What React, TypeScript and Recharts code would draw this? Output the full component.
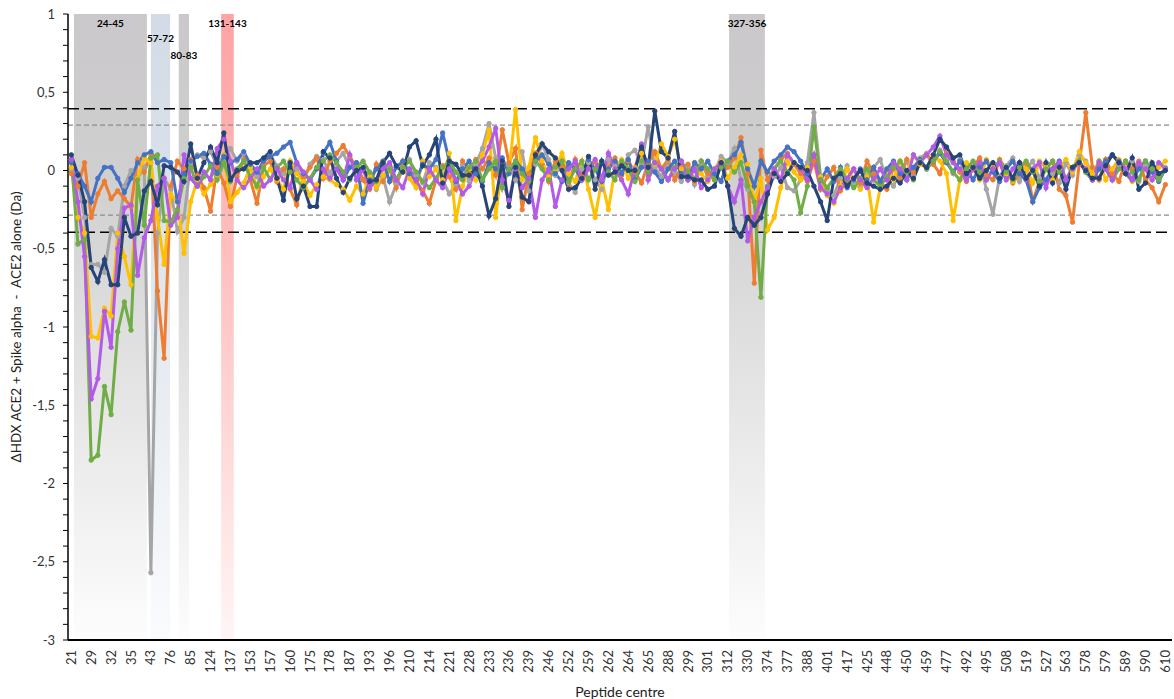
import { LineChart, Line, XAxis, YAxis, ReferenceArea, ReferenceLine } from 'recharts'

// peptide centres, one per category (every third one is labelled on the axis)
const centres = [
  21, 24, 26, 29, 30, 31, 32, 33, 34, 35, 37, 40, 43, 47, 62, 76, 80, 82, 85, 96, 110, 124, 128, 132,
  137, 141, 148, 153, 155, 156, 157, 158, 159, 160, 165, 170, 175, 176, 177, 178, 181, 184, 187, 189, 191,
  193, 194, 195, 196, 201, 205, 210, 212, 213, 214, 216, 219, 221, 224, 226, 228, 230, 232, 233, 234, 235,
  236, 237, 238, 239, 242, 244, 246, 248, 250, 252, 255, 257, 259, 260, 261, 262, 263, 263, 264, 264, 265,
  265, 275, 282, 288, 292, 296, 299, 300, 300, 301, 305, 309, 312, 320, 326, 330, 345, 360, 374, 375, 376,
  377, 381, 385, 388, 393, 397, 401, 407, 412, 417, 420, 423, 425, 435, 442, 448, 449, 449, 450, 454, 457,
  459, 465, 471, 477, 483, 488, 492, 493, 494, 495, 500, 504, 508, 512, 516, 519, 522, 525, 527, 540, 552,
  563, 568, 573, 578, 578, 579, 579, 583, 586, 589, 589, 590, 590, 598, 604, 610,
]

const grey = [
  0.0, -0.05, -0.3, -0.6, -0.6, -0.65, -0.37, -0.42, -0.1, 0.0,
  -0.05, 0.02, -2.57, -0.4, -0.05, -0.12, -0.39, -0.3, 0.05, 0.1,
  0.08, 0.12, 0.03, 0.1, 0.14, 0.06, 0.11, 0.02, -0.04, 0.07,
  0.1, 0.03, -0.02, 0.06, 0.01, -0.07, 0.04, 0.09, 0.07, -0.02,
  0.06, 0.11, 0.02, 0.05, -0.06, -0.02, -0.12, -0.04, -0.2, -0.09,
  0.01, 0.07, -0.03, -0.08, 0.05, 0.02, -0.06, -0.15, -0.09, 0.03,
  -0.07, 0.04, 0.14, 0.3, 0.08, -0.11, 0.03, -0.06, 0.12, -0.13,
  0.04, 0.17, 0.07, -0.03, 0.06, -0.08, -0.14, 0.01, 0.05, -0.06,
  -0.12, 0.07, 0.03, -0.02, 0.1, 0.13, 0.04, 0.28, 0.02, -0.04,
  0.06, -0.01, -0.07, 0.03, -0.09, 0.05, -0.04, -0.01, 0.09, 0.05,
  0.14, -0.06, -0.12, -0.2, -0.3, -0.1, -0.04, 0.02, -0.11, -0.13,
  -0.06, 0.05, 0.37, -0.04, -0.12, -0.16, -0.05, 0.03, -0.08, -0.11,
  -0.03, 0.02, 0.07, -0.06, -0.1, 0.01, 0.06, -0.03, 0.08, 0.11,
  0.04, 0.13, 0.06, -0.02, 0.07, -0.06, 0.02, 0.05, -0.12, -0.28,
  -0.04, 0.03, 0.08, -0.07, 0.01, 0.06, -0.05, 0.04, -0.02, -0.08,
  0.05, -0.03, 0.1, 0.06, -0.02, 0.01, 0.07, -0.06, 0.03, -0.01,
  0.06, -0.07, 0.03, 0.01, -0.06, 0.02,
]

const orange = [
  -0.02, -0.1, 0.05, -0.3, -0.15, -0.07, -0.18, -0.13, -0.18, -0.23,
  0.07, -0.01, 0.1, -0.77, -1.2, -0.1, 0.06, 0.01, 0.07, -0.03,
  -0.11, -0.26, 0.02, -0.08, -0.23, -0.04, 0.07, -0.06, -0.21, 0.03,
  0.06, -0.07, 0.01, -0.12, -0.22, -0.04, 0.02, 0.08, -0.05, 0.06,
  0.11, 0.16, 0.09, 0.02, -0.06, -0.12, 0.04, -0.07, 0.01, -0.11,
  0.06, -0.02, -0.07, -0.13, -0.21, -0.06, 0.03, -0.04, -0.12, 0.06,
  -0.02, 0.07, 0.01, 0.08, -0.03, 0.26, 0.05, 0.14, -0.25, -0.02,
  0.11, 0.04, -0.07, 0.06, 0.02, -0.11, 0.07, -0.04, 0.01, 0.06,
  -0.06, 0.02, 0.08, -0.03, 0.06, -0.01, -0.08, 0.05, 0.12, 0.01,
  0.07, -0.06, 0.02, 0.04, -0.07, 0.06, -0.02, -0.06, 0.05, 0.02,
  0.08, 0.21, -0.02, -0.72, 0.13, -0.06, 0.01, 0.07, 0.11, 0.04,
  -0.02, -0.07, 0.06, -0.12, -0.04, 0.02, -0.13, -0.06, 0.01, -0.08,
  0.06, -0.02, -0.07, -0.12, 0.02, -0.05, 0.07, -0.01, 0.06, 0.1,
  0.04, -0.02, 0.11, 0.06, -0.01, -0.07, 0.02, 0.08, -0.03, -0.06,
  0.07, 0.01, -0.08, -0.02, 0.05, -0.2, -0.07, 0.02, 0.06, -0.12,
  -0.16, -0.33, 0.04, 0.37, 0.02, -0.06, 0.07, -0.02, -0.07, 0.06,
  0.01, 0.06, -0.06, -0.11, -0.2, -0.09,
]

const yellow = [
  0.02, -0.3, -0.4, -1.06, -1.07, -0.88, -0.93, -0.4, -0.55, -0.73,
  -0.05, 0.08, 0.05, -0.3, -0.6, -0.15, -0.2, -0.53, -0.2, -0.06,
  -0.15, -0.09, -0.03, 0.1, -0.2, -0.14, -0.08, 0.02, -0.11, -0.04,
  0.01, -0.06, -0.12, 0.06, -0.02, -0.07, -0.16, -0.09, -0.04, -0.06,
  -0.09, -0.12, -0.19, -0.1, -0.15, -0.04, -0.11, -0.03, 0.01, -0.06,
  0.02, -0.05, -0.11, 0.06, -0.04, 0.01, -0.06, 0.11, -0.32, -0.1,
  0.02, -0.06, 0.1, 0.26, -0.3, 0.06, -0.01, 0.39, -0.06, 0.02,
  0.21, 0.06, -0.04, 0.01, 0.11, -0.02, -0.07, 0.06, -0.12, -0.3,
  -0.06, -0.25, 0.01, 0.07, -0.05, 0.02, 0.11, -0.06, 0.04, 0.17,
  0.09, 0.2, 0.01, -0.06, 0.05, -0.02, -0.07, 0.01, 0.06, -0.05,
  0.02, 0.1, 0.04, -0.2, -0.05, -0.38, -0.3, -0.11, 0.06, -0.01,
  -0.06, 0.02, 0.1, -0.04, -0.16, -0.21, -0.1, 0.01, -0.06, -0.12,
  -0.04, -0.33, -0.11, 0.01, -0.06, 0.06, -0.01, 0.1, 0.04, 0.02,
  0.1, 0.06, -0.02, -0.32, -0.06, 0.05, 0.01, -0.06, 0.07, 0.02,
  0.06, -0.02, -0.07, 0.05, 0.01, -0.08, 0.06, 0.02, -0.06, 0.01,
  0.07, -0.01, 0.12, 0.05, -0.02, 0.06, -0.06, 0.01, 0.07, -0.02,
  -0.07, 0.05, 0.01, -0.06, 0.02, 0.06,
]

const blue = [
  0.05, -0.02, -0.1, -0.2, -0.05, 0.02, 0.02, -0.05, -0.14, -0.05,
  0.05, 0.1, 0.12, 0.05, 0.07, 0.05, -0.2, -0.02, 0.06, 0.09,
  0.11, 0.04, -0.02, 0.09, 0.05, 0.07, 0.12, 0.04, -0.01, 0.06,
  0.09, 0.11, 0.15, 0.18, 0.05, -0.02, -0.06, 0.01, 0.11, 0.18,
  0.06, -0.06, 0.02, 0.05, -0.21, -0.06, 0.01, 0.06, -0.07, 0.02,
  0.06, -0.02, -0.06, 0.04, 0.01, 0.07, 0.24, 0.06, -0.07, 0.01,
  0.06, -0.02, -0.07, 0.05, 0.01, 0.08, -0.02, 0.06, 0.01, -0.06,
  0.06, 0.1, 0.04, -0.02, -0.07, 0.05, 0.01, -0.06, 0.07, 0.01,
  -0.07, 0.01, 0.06, -0.02, 0.07, -0.06, 0.02, 0.06, -0.01, -0.07,
  0.01, 0.06, -0.02, -0.06, 0.05, 0.01, 0.06, -0.02, -0.07, 0.06,
  0.1, 0.18, 0.01, -0.1, 0.06, -0.01, 0.06, 0.1, 0.15, 0.12,
  0.06, -0.02, 0.1, -0.06, 0.01, -0.07, 0.02, -0.11, -0.06, 0.01,
  -0.06, 0.02, -0.07, 0.01, 0.06, -0.02, -0.06, 0.02, 0.07, 0.01,
  0.06, 0.11, 0.05, -0.01, 0.06, 0.01, -0.06, 0.02, 0.06, -0.01,
  -0.07, 0.01, 0.06, -0.02, -0.06, -0.2, -0.11, -0.06, 0.01, 0.06,
  -0.06, 0.02, 0.06, -0.01, -0.06, 0.01, 0.06, 0.1, 0.06, -0.02,
  -0.06, 0.01, 0.06, -0.01, -0.07, 0.01,
]

const green = [
  0.07, -0.47, -0.44, -1.85, -1.82, -1.38, -1.56, -1.03, -0.84, -1.02,
  -0.06, -0.35, 0.08, 0.1, -0.32, -0.33, -0.25, -0.05, 0.02, -0.1,
  -0.04, 0.03, -0.06, 0.05, -0.07, 0.01, 0.06, -0.04, -0.1, 0.02,
  -0.06, 0.02, 0.06, -0.01, -0.06, -0.11, -0.05, 0.02, 0.06, 0.1,
  0.05, -0.01, -0.06, 0.02, 0.06, -0.01, -0.07, 0.05, 0.01, -0.06,
  0.02, 0.06, -0.01, -0.07, -0.11, -0.05, 0.02, 0.06, -0.01, -0.06,
  0.02, 0.06, -0.06, 0.01, 0.06, -0.11, 0.01, 0.06, -0.02, -0.07,
  0.06, 0.01, -0.06, 0.02, 0.06, -0.07, 0.01, 0.06, -0.06, 0.01,
  0.06, -0.01, -0.06, 0.06, 0.01, -0.07, 0.06, -0.01, 0.05, 0.01,
  -0.06, 0.02, 0.06, -0.01, -0.06, 0.06, 0.01, -0.06, 0.02, 0.06,
  -0.01, 0.05, -0.1, -0.2, -0.81, -0.1, 0.01, 0.06, -0.01, -0.06,
  -0.27, -0.1, 0.28, -0.06, -0.11, -0.05, 0.01, -0.06, -0.11, -0.05,
  0.01, -0.06, -0.1, -0.04, 0.02, 0.06, -0.01, -0.06, 0.06, 0.01,
  0.06, 0.12, 0.06, -0.01, -0.06, 0.01, 0.06, -0.01, -0.06, 0.01,
  0.06, -0.01, -0.06, 0.02, 0.06, -0.01, -0.07, 0.01, 0.06, -0.01,
  -0.06, 0.02, 0.06, -0.01, -0.06, 0.06, 0.01, -0.06, 0.01, 0.06,
  -0.01, -0.06, 0.06, 0.01, -0.06, 0.01,
]

const purple = [
  0.07, -0.2, -0.55, -1.46, -1.33, -0.9, -1.13, -0.5, -0.24, -0.22,
  -0.67, -0.43, -0.32, -0.1, -0.05, -0.35, -0.3, 0.1, -0.05, -0.1,
  -0.01, -0.06, 0.14, 0.2, 0.06, -0.06, -0.11, -0.05, 0.01, -0.1,
  -0.06, 0.01, -0.06, -0.11, 0.05, -0.01, -0.06, -0.12, 0.01, -0.05,
  0.01, -0.06, 0.1, -0.06, 0.01, -0.11, -0.06, 0.01, 0.05, -0.06,
  -0.11, 0.01, -0.06, -0.15, 0.01, -0.06, -0.11, 0.01, -0.06, -0.15,
  -0.1, 0.01, 0.06, 0.15, 0.27, -0.06, -0.19, 0.01, -0.11, -0.05,
  -0.3, -0.06, 0.01, -0.23, -0.06, 0.01, 0.06, -0.06, 0.01, 0.07,
  -0.06, 0.11, 0.01, -0.06, -0.15, 0.01, 0.17, -0.06, 0.05, 0.01,
  -0.06, 0.01, 0.06, -0.06, 0.01, -0.11, -0.06, 0.01, 0.05, -0.1,
  -0.2, -0.06, -0.45, -0.3, -0.2, -0.11, 0.01, -0.06, 0.1, 0.05,
  0.01, -0.06, 0.1, -0.11, -0.15, -0.2, -0.11, -0.05, 0.01, -0.06,
  -0.11, -0.05, 0.01, -0.06, 0.05, 0.01, -0.06, 0.1, 0.05, 0.1,
  0.15, 0.22, 0.1, 0.05, 0.01, -0.06, 0.01, 0.05, -0.06, 0.01,
  0.05, -0.06, 0.01, 0.05, -0.06, 0.01, 0.05, -0.11, 0.01, 0.05,
  -0.06, 0.01, 0.05, 0.01, -0.06, 0.05, 0.01, -0.06, 0.05, 0.01,
  -0.06, 0.05, 0.01, -0.06, 0.05, 0.01,
]

const navy = [
  0.1, -0.03, -0.2, -0.62, -0.71, -0.57, -0.73, -0.73, -0.3, -0.42,
  -0.4, -0.13, -0.07, -0.22, 0.03, 0.02, -0.01, -0.07, 0.17, -0.05,
  0.05, 0.15, 0.05, 0.24, -0.06, 0.0, 0.01, 0.05, 0.05, 0.08,
  0.12, -0.05, -0.19, 0.05, -0.18, -0.1, -0.23, -0.23, 0.12, 0.08,
  -0.05, -0.14, -0.05, 0.0, 0.02, -0.07, -0.06, 0.05, 0.11, 0.03,
  -0.01, 0.15, 0.19, 0.03, 0.1, 0.2, -0.08, 0.06, 0.04, -0.03,
  -0.03, 0.01, -0.1, -0.29, -0.18, 0.06, -0.23, 0.02, -0.17, -0.2,
  0.1, 0.17, 0.12, 0.08, 0.0, -0.12, -0.11, -0.05, 0.09, -0.12,
  0.06, -0.03, -0.01, 0.03, 0.0, 0.0, 0.15, 0.02, 0.38, 0.12,
  0.08, 0.25, -0.04, -0.04, -0.06, -0.06, -0.12, -0.1, 0.05, -0.1,
  -0.37, -0.42, -0.3, -0.35, -0.3, -0.15, -0.02, -0.07, -0.02, 0.05,
  0.02, 0.0, -0.1, -0.2, -0.32, -0.05, -0.02, -0.1, -0.05, 0.0,
  -0.08, -0.1, -0.12, -0.1, -0.05, -0.08, 0.0, -0.05, 0.05, 0.02,
  0.1, 0.2, 0.15, 0.08, 0.1, -0.02, 0.02, -0.05, 0.0, 0.05,
  -0.05, 0.02, -0.05, 0.05, -0.05, 0.0, -0.1, 0.05, -0.08, 0.02,
  -0.12, 0.02, 0.05, 0.0, -0.05, -0.05, 0.03, 0.1, 0.05, -0.02,
  0.08, -0.12, -0.08, 0.05, -0.02, 0.0,
]

const series = [
  { key: 'grey', values: grey, color: '#A5A5A5' },
  { key: 'orange', values: orange, color: '#ED7D31' },
  { key: 'yellow', values: yellow, color: '#FFC000' },
  { key: 'blue', values: blue, color: '#4472C4' },
  { key: 'green', values: green, color: '#70AD47' },
  { key: 'purple', values: purple, color: '#B45AE8' },
  { key: 'navy', values: navy, color: '#264478' },
]

// highlighted residue ranges, bounds in category units
const regions = [
  { label: '24-45', from: 0.4, to: 11.4, tone: 'grey' },
  { label: '57-72', from: 12.0, to: 14.9, tone: 'blue' },
  { label: '80-83', from: 16.2, to: 17.75, tone: 'grey' },
  { label: '131-143', from: 22.6, to: 24.5, tone: 'red' },
  { label: '327-356', from: 99.2, to: 104.6, tone: 'grey' },
]

const thresholds = [
  { y: 0.395, strong: true },
  { y: -0.395, strong: true },
  { y: 0.29, strong: false },
  { y: -0.285, strong: false },
]

const yMajor = [-3, -2.5, -2, -1.5, -1, -0.5, 0, 0.5, 1]
const yTicks = Array.from({ length: 41 }, (_, k) => (k - 30) / 10)
const xTicks = centres.map((_, i) => i).filter((i) => i % 3 === 0)

const labelOffset: Record<string, number> = { '24-45': 6, '57-72': 21, '80-83': 38, '131-143': 6, '327-356': 6 }

const data = centres.map((c, i) => {
  const row: Record<string, number> = { idx: i, centre: c }
  series.forEach((s) => {
    row[s.key] = s.values[i]
  })
  return row
})

const XTick = ({ x, y, payload }: any) => (
  <text x={x} y={y} transform={`rotate(-90 ${x} ${y})`} textAnchor="end" dy="0.35em" fontSize={13} fill="#333">
    {centres[payload.value]}
  </text>
)

const YLabel = ({ viewBox }: any) => {
  const cx = 16
  const cy = viewBox.y + viewBox.height / 2
  return (
    <text x={cx} y={cy} transform={`rotate(-90 ${cx} ${cy})`} textAnchor="middle" dy="0.35em" fontSize={13.5} fill="#222">
      {'ΔHDX ACE2 + Spike alpha\u00a0\u00a0-\u00a0\u00a0ACE2 alone (Da)'}
    </text>
  )
}

export default function App() {
  return (
    <div style={{ position: 'absolute', left: 0, top: 0, background: '#fff', fontFamily: 'Lato, sans-serif' }}>
      <LineChart width={1174} height={699} data={data} margin={{ top: 14, right: 2, left: 0, bottom: 0 }}>
        <defs>
          <linearGradient id="fade-grey" x1="0" y1="0" x2="0" y2="1">
            <stop offset="0%" stopColor="#CAC8CA" />
            <stop offset="25%" stopColor="#D0CFD0" />
            <stop offset="100%" stopColor="#FDFDFD" />
          </linearGradient>
          <linearGradient id="fade-blue" x1="0" y1="0" x2="0" y2="1">
            <stop offset="0%" stopColor="#D3DBE6" />
            <stop offset="25%" stopColor="#D9E0E9" />
            <stop offset="100%" stopColor="#FAFBFD" />
          </linearGradient>
          <linearGradient id="fade-red" x1="0" y1="0" x2="0" y2="1">
            <stop offset="0%" stopColor="#FFA3A3" />
            <stop offset="25%" stopColor="#FFB3B3" />
            <stop offset="100%" stopColor="#FFF5F5" />
          </linearGradient>
        </defs>
        <XAxis
          type="number"
          dataKey="idx"
          domain={[-0.5, 166]}
          ticks={xTicks}
          interval={0}
          tick={<XTick />}
          tickLine={false}
          tickSize={0}
          tickMargin={10}
          height={59}
          axisLine={{ stroke: '#000', strokeWidth: 2 }}
          label={{ value: 'Peptide centre', position: 'insideBottom', offset: 2, fontSize: 14, fill: '#222' }}
        />
        <YAxis
          type="number"
          domain={[-3, 1]}
          ticks={yTicks}
          interval={0}
          width={68}
          tickSize={5}
          tickMargin={8}
          tickLine={{ stroke: '#000' }}
          axisLine={{ stroke: '#000', strokeWidth: 1.5 }}
          tick={{ fontSize: 13, fill: '#333' }}
          tickFormatter={(v: number) => (yMajor.includes(v) ? String(v).replace('.', ',') : '')}
          label={<YLabel />}
        />
        {regions.map((r) => (
          <ReferenceArea
            key={r.label}
            x1={r.from}
            x2={r.to}
            y1={-3}
            y2={1}
            fill={`url(#fade-${r.tone})`}
            fillOpacity={1}
            stroke="none"
            label={{ value: r.label, position: 'insideTop', offset: labelOffset[r.label], fontSize: 10, fontWeight: 700, fill: '#000' }}
          />
        ))}
        {thresholds.map((t) => (
          <ReferenceLine
            key={t.y}
            y={t.y}
            stroke={t.strong ? '#000' : '#8C8C8C'}
            strokeWidth={t.strong ? 1.5 : 1.3}
            strokeDasharray={t.strong ? '11 5' : '5 3'}
          />
        ))}
        {series.map((s) => (
          <Line
            key={s.key}
            type="linear"
            dataKey={s.key}
            stroke={s.color}
            strokeWidth={3}
            dot={{ r: 2.2, fill: s.color, stroke: s.color, strokeWidth: 1 }}
            isAnimationActive={false}
          />
        ))}
      </LineChart>
    </div>
  )
}
